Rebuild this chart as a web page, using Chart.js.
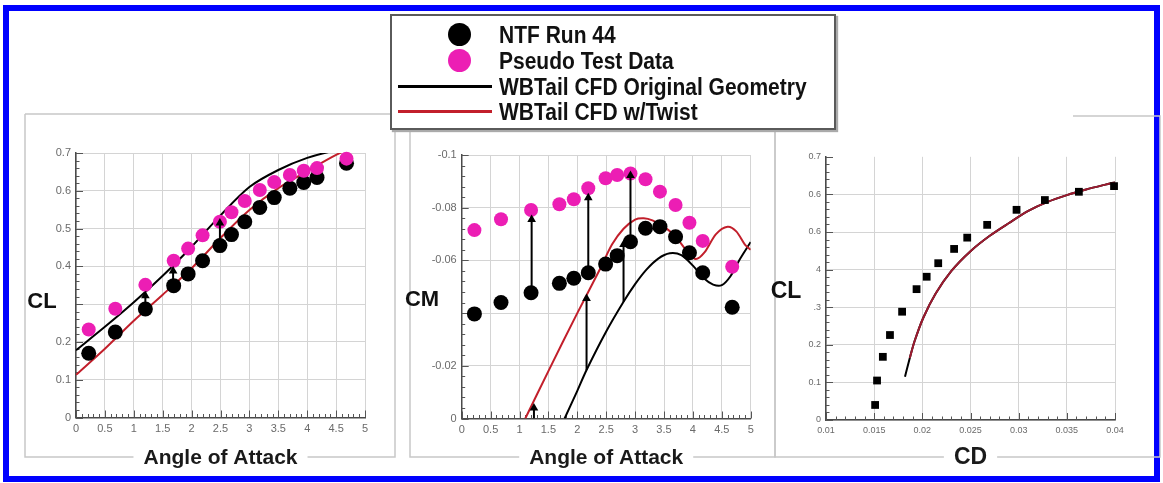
<!DOCTYPE html>
<html>
<head>
<meta charset="utf-8">
<title>CL / CM / drag polar</title>
<script src="https://cdn.jsdelivr.net/npm/chart.js@4.4.1/dist/chart.umd.min.js"></script>
<style>
  html, body { margin: 0; padding: 0; background: #fff; }
  body { position: relative; width: 1163px; height: 483px; overflow: hidden; font-family: "Liberation Sans", Arial, sans-serif; }
  #outline { position: absolute; left: 3px; top: 5px; width: 1145px; height: 465px; border: 6px solid #0000ff; }
  canvas { position: absolute; }
  #legend { position: absolute; left: 390px; top: 14px; width: 442px; height: 112px; border: 2px solid #5a5a5a; box-shadow: 2px 2px 1px #aaa; background: #fff; z-index: 5; }
  .item { position: absolute; left: 0; width: 100%; height: 26px; }
  .item span { position: absolute; left: 107px; top: 0; line-height: 26px; font-weight: bold; font-size: 21px; color: #111; white-space: nowrap; transform: scaleY(1.12); transform-origin: left center; }
  .dot { position: absolute; left: 56px; top: 1px; width: 23px; height: 23px; border-radius: 50%; }
  .line { position: absolute; left: 6px; top: 11px; width: 94px; height: 3px; }
</style>
</head>
<body>
<div id="outline"></div>
<div id="legend"></div>
<canvas id="clChart" width="380" height="370" style="left:20px;top:105px"></canvas>
<canvas id="cmChart" width="380" height="370" style="left:400px;top:105px"></canvas>
<canvas id="polarChart" width="393" height="370" style="left:770px;top:105px"></canvas>
<script>
const seriesNames = ['NTF Run 44', 'Pseudo Test Data', 'WBTail CFD Original Geometry', 'WBTail CFD w/Twist'];
const seriesColors = ['#000000', '#ec1eb4', '#000000', '#c21f2b'];
const polarRed = '#9c1b30';

// wind tunnel points, angle of attack in deg
const alphaTest = [0.22, 0.68, 1.2, 1.69, 1.94, 2.19, 2.49, 2.69, 2.92, 3.18, 3.43, 3.7, 3.94, 4.17, 4.68];
const clNTF = [0.17, 0.226, 0.287, 0.349, 0.38, 0.415, 0.455, 0.484, 0.518, 0.556, 0.582, 0.607, 0.622, 0.635, 0.673];
const clPseudo = [0.233, 0.288, 0.351, 0.415, 0.447, 0.482, 0.518, 0.543, 0.573, 0.602, 0.623, 0.642, 0.653, 0.66, 0.685];
const cmNTF = [-0.0397, -0.044, -0.0477, -0.0513, -0.0532, -0.0553, -0.0586, -0.0618, -0.0671, -0.0722, -0.0728, -0.069, -0.0629, -0.0553, -0.0422];
const cmPseudo = [-0.0715, -0.0756, -0.0791, -0.0813, -0.0832, -0.0874, -0.0912, -0.0924, -0.093, -0.0908, -0.0861, -0.081, -0.0743, -0.0674, -0.0576];

// drag polar, NTF run 44
const cdNTF = [0.0151, 0.0153, 0.0159, 0.01664, 0.0179, 0.0194, 0.02045, 0.02165, 0.0233, 0.02466, 0.02673, 0.02978, 0.03272, 0.03625, 0.0399];
const clPolarNTF = [0.04, 0.105, 0.168, 0.226, 0.288, 0.348, 0.381, 0.417, 0.455, 0.485, 0.519, 0.559, 0.585, 0.607, 0.622];

// CFD curves
const alphaCfd = [0, 0.5, 1, 1.5, 2, 2.5, 3, 3.5, 4, 4.5, 5];
const clCfdOrig = [0.178, 0.24, 0.305, 0.375, 0.452, 0.535, 0.61, 0.655, 0.687, 0.707, 0.72];
const clCfdTwist = [0.113, 0.182, 0.256, 0.325, 0.395, 0.475, 0.549, 0.607, 0.652, 0.695, 0.73];
const alphaCmOrig = [1.78, 2.0, 2.16, 2.5, 2.8, 3.0, 3.2, 3.4, 3.6, 3.8, 4.0, 4.2, 4.35, 4.5, 4.65, 4.8, 5.0];
const cmCfdOrig = [0, -0.0105, -0.0184, -0.033, -0.0443, -0.051, -0.0566, -0.0607, -0.0627, -0.062, -0.058, -0.053, -0.0508, -0.0506, -0.054, -0.06, -0.067];
const alphaCmTwist = [1.1, 1.5, 2.0, 2.4, 2.6, 2.8, 3.0, 3.15, 3.3, 3.5, 3.7, 3.9, 4.05, 4.2, 4.4, 4.6, 4.75, 4.9, 5.0];
const cmCfdTwist = [0, -0.018, -0.04, -0.057, -0.066, -0.072, -0.0755, -0.076, -0.0752, -0.0728, -0.069, -0.0635, -0.0605, -0.063, -0.07, -0.0728, -0.071, -0.066, -0.064];
const cdCfd = [0.0182, 0.0187, 0.0192, 0.0201, 0.0214, 0.023, 0.025, 0.027, 0.029, 0.031, 0.033, 0.035, 0.037, 0.039, 0.04];
const clCfdPolar = [0.115, 0.165, 0.21, 0.272, 0.337, 0.396, 0.449, 0.49, 0.524, 0.556, 0.58, 0.598, 0.613, 0.626, 0.632];

// arrows from NTF point / original CFD up to the shifted value
const clArrowX = [1.2, 1.68, 2.49];
const clArrowFrom = [0.29, 0.35, 0.455];
const clArrowTo = [0.322, 0.388, 0.515];
const cmArrowX = [1.21, 1.25, 2.19, 2.16, 2.8, 2.92];
const cmArrowFrom = [-0.0477, 0, -0.0553, -0.0184, -0.0443, -0.067];
const cmArrowTo = [-0.0755, -0.004, -0.0838, -0.0455, -0.066, -0.0922];

// tick labels as printed on the figure (lowest value first)
const alphaTicks = ['0', '0.5', '1', '1.5', '2', '2.5', '3', '3.5', '4', '4.5', '5'];
const clTicks = ['0', '0.1', '0.2', '', '0.4', '0.5', '0.6', '0.7'];
const cmTicks = ['-0.1', '-0.08', '-0.06', '', '-0.02', '0'];
const cdTicks = ['0.01', '0.015', '0.02', '0.025', '0.03', '0.035', '0.04'];
const clPolarTicks = ['0', '0.1', '0.2', '.3', '4', '0.6', '0.6', '0.7'];

const FONT = '"Liberation Sans", Arial, sans-serif';
Chart.defaults.font.family = FONT;
Chart.defaults.animation = false;

// legend box shared by the three panels
const legendEl = document.getElementById('legend');
seriesNames.forEach((name, i) => {
  const row = document.createElement('div');
  row.className = 'item';
  row.style.top = [6, 32, 58, 83][i] + 'px';
  const mark = document.createElement('div');
  mark.className = i < 2 ? 'dot' : 'line';
  mark.style.background = seriesColors[i];
  const txt = document.createElement('span');
  txt.textContent = name;
  row.appendChild(mark);
  row.appendChild(txt);
  legendEl.appendChild(row);
});

const pts = (xs, ys) => xs.map((x, i) => ({ x, y: ys[i] }));
const arrowPts = (xs, from, to) => xs.flatMap((x, i) => [{ x, y: from[i] }, { x, y: to[i] }, { x, y: null }]);

// gray panel outline, with a gap where the x title sits
const framePlugin = {
  id: 'panelFrame',
  beforeDraw(chart, args, o) {
    const ctx = chart.ctx;
    const t = chart.scales.x.options.title;
    ctx.save();
    ctx.font = 'bold ' + t.font.size + 'px ' + FONT;
    const half = ctx.measureText(t.text).width / 2 + 10;
    const cx = (chart.chartArea.left + chart.chartArea.right) / 2;
    ctx.strokeStyle = '#c8c8c8';
    ctx.lineWidth = 1.5;
    ctx.beginPath();
    ctx.moveTo(cx - half, o.bottom);
    ctx.lineTo(o.left, o.bottom);
    ctx.lineTo(o.left, o.top);
    ctx.moveTo(o.topFrom !== undefined ? o.topFrom : o.left, o.top);
    ctx.lineTo(o.right, o.top);
    ctx.lineTo(o.right, o.bottom);
    ctx.lineTo(cx + half, o.bottom);
    ctx.stroke();
    ctx.restore();
  }
};

// horizontal y label (CL, CM)
const sideLabelPlugin = {
  id: 'sideLabel',
  afterDraw(chart, args, o) {
    const ctx = chart.ctx;
    ctx.save();
    ctx.font = 'bold ' + o.size + 'px ' + FONT;
    ctx.fillStyle = '#111';
    ctx.textAlign = 'center';
    ctx.textBaseline = 'middle';
    ctx.fillText(o.text, o.x, o.y);
    ctx.restore();
  }
};

// ruler style ticks pointing into the plot
const minorTicksPlugin = {
  id: 'minorTicks',
  beforeDatasetsDraw(chart, args, o) {
    const ctx = chart.ctx;
    ctx.save();
    ctx.strokeStyle = '#555';
    ctx.lineWidth = 1;
    ctx.beginPath();
    ['x', 'y'].forEach(id => {
      const s = chart.scales[id];
      const step = o[id], major = o[id + 'Major'];
      const n = Math.round((s.max - s.min) / step);
      for (let i = 0; i <= n; i++) {
        const v = s.min + i * step;
        const r = v / major;
        const len = Math.abs(r - Math.round(r)) < 1e-6 ? 7 : 3.5;
        const p = Math.round(s.getPixelForValue(v)) + 0.5;
        if (id === 'x') { ctx.moveTo(p, s.top); ctx.lineTo(p, s.top - len); }
        else { ctx.moveTo(s.right, p); ctx.lineTo(s.right + len, p); }
      }
    });
    ctx.stroke();
    ctx.restore();
  }
};

function axis(o) {
  return {
    type: 'linear', min: o.min, max: o.max, reverse: !!o.reverse,
    ticks: {
      stepSize: o.step, autoSkip: false, maxRotation: 0, color: '#6a6a6a',
      font: { size: o.tickSize }, padding: o.tickPad,
      callback: v => o.labels[Math.round((v - o.min) / o.step)]
    },
    grid: { color: o.gridColor || '#d4d4d4', drawTicks: false, lineWidth: 1 },
    border: { color: '#4a4a4a', width: 1.5 },
    title: o.title ? { display: true, text: o.title, color: '#1a1a1a', font: { size: o.titleSize, weight: 'bold' }, padding: { top: 0, bottom: o.titlePad } } : { display: false },
    afterFit: s => { if (o.width) s.width = o.width; if (o.height) s.height = o.height; }
  };
}

function dots(label, data, color, order, style, radius) {
  return { label, data, order, clip: false, pointStyle: style, pointRadius: radius,
    pointBackgroundColor: color, pointBorderColor: color, pointBorderWidth: 0 };
}
function curve(label, data, color, order) {
  return { label, data, order, showLine: true, borderColor: color, borderWidth: 2, pointRadius: 0, tension: 0.3 };
}
function arrows(label, data) {
  return { label, data, order: 0, showLine: true, spanGaps: false, borderColor: '#000', borderWidth: 2,
    pointStyle: 'triangle', pointRadius: c => (c.dataIndex % 3 === 1 ? 5 : 0),
    pointBackgroundColor: '#000', pointBorderWidth: 0 };
}

function common(padding, extra) {
  return Object.assign({
    responsive: false, animation: false, events: [],
    layout: { padding },
    plugins: { legend: { display: false }, tooltip: { enabled: false } }
  }, extra);
}

// CL vs alpha
new Chart(document.getElementById('clChart'), {
  type: 'scatter',
  data: { datasets: [
    arrows('arrows', arrowPts(clArrowX, clArrowFrom, clArrowTo)),
    dots(seriesNames[1], pts(alphaTest, clPseudo), seriesColors[1], 1, 'circle', 7),
    dots(seriesNames[0], pts(alphaTest, clNTF), seriesColors[0], 2, 'circle', 7.5),
    curve(seriesNames[3], pts(alphaCfd, clCfdTwist), seriesColors[3], 3),
    curve(seriesNames[2], pts(alphaCfd, clCfdOrig), seriesColors[2], 4)
  ] },
  options: common({ top: 48, right: 35, left: 0, bottom: 0 }, {
    scales: {
      x: axis({ min: 0, max: 5, step: 0.5, labels: alphaTicks, tickSize: 11, tickPad: 5, height: 57.5,
        title: 'Angle of Attack', titleSize: 21, titlePad: 4.4 }),
      y: axis({ min: 0, max: 0.7, step: 0.1, labels: clTicks, tickSize: 11, tickPad: 5, width: 56 })
    },
    plugins: { legend: { display: false }, tooltip: { enabled: false },
      panelFrame: { left: 5, top: 9, right: 375, bottom: 352 },
      sideLabel: { text: 'CL', x: 22, y: 197, size: 22 },
      minorTicks: { x: 0.1, xMajor: 0.5, y: 0.02, yMajor: 0.1 } }
  }),
  plugins: [framePlugin, sideLabelPlugin, minorTicksPlugin]
});

// CM vs alpha (nose-down values plotted upward)
new Chart(document.getElementById('cmChart'), {
  type: 'scatter',
  data: { datasets: [
    arrows('arrows', arrowPts(cmArrowX, cmArrowFrom, cmArrowTo)),
    dots(seriesNames[1], pts(alphaTest, cmPseudo), seriesColors[1], 1, 'circle', 7),
    dots(seriesNames[0], pts(alphaTest, cmNTF), seriesColors[0], 2, 'circle', 7.5),
    curve(seriesNames[3], pts(alphaCmTwist, cmCfdTwist), seriesColors[3], 3),
    curve(seriesNames[2], pts(alphaCmOrig, cmCfdOrig), seriesColors[2], 4)
  ] },
  options: common({ top: 50, right: 29.3, left: 0, bottom: 0 }, {
    scales: {
      x: axis({ min: 0, max: 5, step: 0.5, labels: alphaTicks, tickSize: 11, tickPad: 5, height: 56.5,
        title: 'Angle of Attack', titleSize: 21, titlePad: 4.4 }),
      y: axis({ min: -0.1, max: 0, step: 0.02, reverse: true, labels: cmTicks, tickSize: 11, tickPad: 5, width: 61.7 })
    },
    plugins: { legend: { display: false }, tooltip: { enabled: false },
      panelFrame: { left: 10, top: 20, right: 375, bottom: 352 },
      sideLabel: { text: 'CM', x: 22, y: 195, size: 22 },
      minorTicks: { x: 0.1, xMajor: 0.5, y: 0.004, yMajor: 0.02 } }
  }),
  plugins: [framePlugin, sideLabelPlugin, minorTicksPlugin]
});

// drag polar
new Chart(document.getElementById('polarChart'), {
  type: 'scatter',
  data: { datasets: [
    dots(seriesNames[0], pts(cdNTF, clPolarNTF), '#000', 1, 'rect', 5.5),
    curve(seriesNames[3], pts(cdCfd.slice(1), clCfdPolar.slice(1)), polarRed, 2),
    curve(seriesNames[2], pts(cdCfd, clCfdPolar), '#000', 3)
  ] },
  options: common({ top: 51.8, right: 48, left: 0, bottom: 0 }, {
    scales: {
      x: axis({ min: 0.01, max: 0.04, step: 0.005, labels: cdTicks, tickSize: 9, tickPad: 5, height: 55,
        title: 'CD', titleSize: 23, titlePad: 3.2 }),
      y: Object.assign(axis({ min: 0, max: 0.7, step: 0.1, labels: clPolarTicks, tickSize: 9, tickPad: 5, width: 56 }), {
        grid: { drawTicks: false, lineWidth: 1, color: c => (c.tick && c.tick.value > 0.69 ? 'rgba(0,0,0,0)' : '#d4d4d4') }
      })
    },
    plugins: { legend: { display: false }, tooltip: { enabled: false },
      panelFrame: { left: 5, top: 11, right: 390, bottom: 352, topFrom: 303 },
      sideLabel: { text: 'CL', x: 16, y: 187, size: 23 },
      minorTicks: { x: 0.001, xMajor: 0.005, y: 0.02, yMajor: 0.1 } }
  }),
  plugins: [framePlugin, sideLabelPlugin, minorTicksPlugin]
});
</script>
</body>
</html>
